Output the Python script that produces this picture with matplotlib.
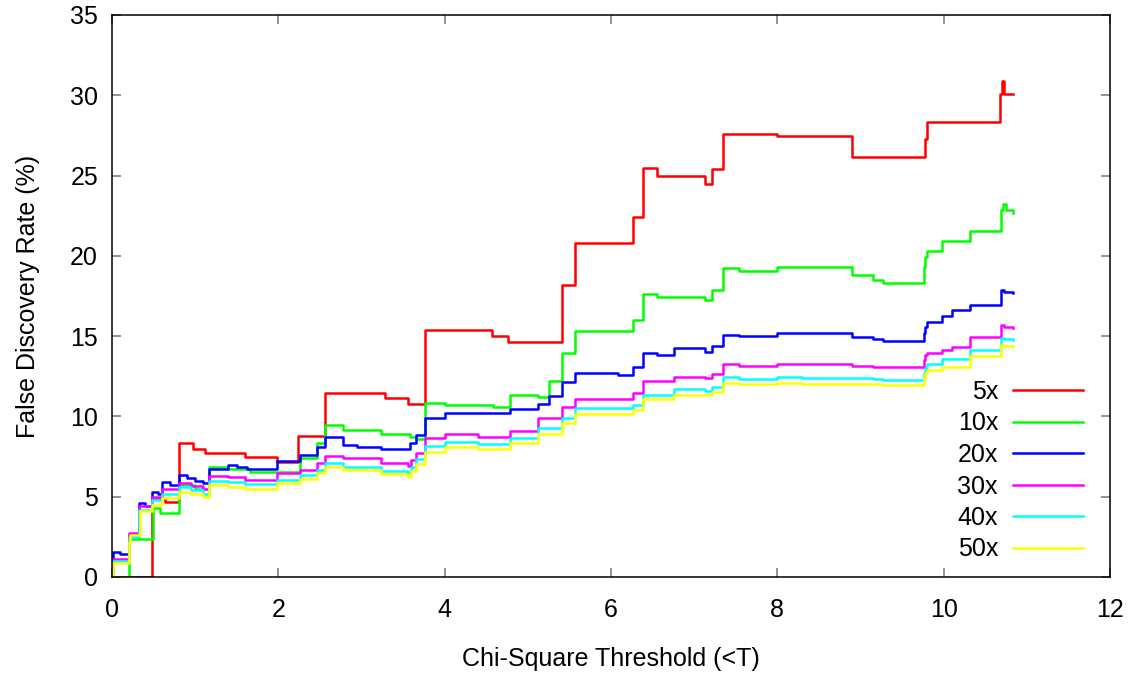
import matplotlib
matplotlib.use('Agg')
import matplotlib.pyplot as plt

plt.rcParams['font.family'] = ['Liberation Sans', 'DejaVu Sans']

# step data (x = threshold, y = FDR %)
red_x = [0, 0.48, 0.64, 0.80, 0.97, 1.12, 1.60, 1.98, 2.24, 2.56, 3.28, 3.56, 3.76, 4.57, 4.76,
         5.41, 5.57, 6.26, 6.38, 6.55, 7.13, 7.21, 7.35, 8.0, 8.9, 9.78, 9.80, 10.68, 10.70, 10.72, 10.83]
red_y = [0, 4.9, 4.65, 8.35, 8.0, 7.7, 7.45, 7.15, 8.8, 11.45, 11.15, 10.8, 15.4, 15.0, 14.65,
         18.2, 20.8, 22.4, 25.5, 25.0, 24.5, 25.4, 27.6, 27.45, 26.15, 27.3, 28.35, 30.1, 30.9, 30.1, 30.1]

green_x = [0, 0.20, 0.49, 0.58, 0.80, 1.00, 1.17, 1.39, 1.66, 2.26, 2.46, 2.56, 2.78, 3.24, 3.58, 3.65,
           3.76, 4.0, 4.58, 4.79, 5.12, 5.25, 5.41, 5.57, 6.26, 6.38, 6.55, 7.13, 7.21, 7.35, 7.54, 8.0,
           8.9, 9.15, 9.27, 9.76, 9.78, 9.80, 9.98, 10.32, 10.69, 10.71, 10.75, 10.83]
green_y = [0, 2.35, 4.3, 4.0, 5.7, 5.5, 6.85, 6.75, 6.55, 7.4, 8.35, 9.45, 9.15, 8.9, 8.7, 8.6,
           10.85, 10.7, 10.6, 11.35, 11.2, 12.2, 13.95, 15.3, 16.0, 17.6, 17.45, 17.25, 17.9, 19.25, 19.05, 19.3,
           18.8, 18.5, 18.3, 19.3, 19.9, 20.3, 20.9, 21.55, 22.85, 23.2, 22.85, 22.7]

blue_x = [0, 0.01, 0.10, 0.20, 0.33, 0.40, 0.48, 0.55, 0.60, 0.70, 0.80, 0.90, 1.00, 1.10, 1.17, 1.39,
          1.50, 1.62, 1.98, 2.26, 2.46, 2.56, 2.78, 2.95, 3.24, 3.58, 3.65, 3.76, 4.0, 4.79, 5.12, 5.25,
          5.41, 5.57, 6.08, 6.26, 6.38, 6.55, 6.76, 7.13, 7.21, 7.35, 7.54, 8.0, 8.9, 9.15, 9.27, 9.76,
          9.78, 9.80, 9.98, 10.10, 10.32, 10.69, 10.73, 10.83]
blue_y = [0, 1.58, 1.45, 2.6, 4.6, 4.45, 5.3, 5.15, 5.9, 5.7, 6.35, 6.15, 6.0, 5.85, 6.7, 7.0,
          6.85, 6.7, 7.2, 7.6, 8.1, 8.7, 8.2, 8.1, 7.95, 8.35, 8.85, 9.9, 10.2, 10.45, 10.8, 11.3,
          12.15, 12.7, 12.6, 13.1, 13.95, 13.8, 14.25, 14.0, 14.4, 15.1, 15.0, 15.2, 14.95, 14.8, 14.7, 15.2,
          15.6, 15.85, 16.25, 16.6, 16.93, 17.87, 17.75, 17.7]

magenta_x = [0, 0.01, 0.20, 0.33, 0.48, 0.60, 0.80, 0.95, 1.10, 1.17, 1.39, 1.60, 1.98, 2.26, 2.46, 2.56,
             2.78, 3.24, 3.56, 3.60, 3.65, 3.76, 4.0, 4.40, 4.79, 5.12, 5.41, 5.57, 6.26, 6.38, 6.76, 7.13,
             7.21, 7.35, 7.54, 8.0, 8.9, 9.15, 9.27, 9.76, 9.78, 9.80, 9.98, 10.10, 10.32, 10.69, 10.73, 10.83]
magenta_y = [0, 1.15, 2.75, 4.4, 5.0, 5.5, 5.87, 5.65, 5.45, 6.3, 6.25, 6.05, 6.45, 6.65, 7.1, 7.55,
             7.4, 7.1, 6.9, 7.3, 7.7, 8.65, 8.9, 8.75, 9.1, 9.9, 10.6, 11.1, 11.45, 12.2, 12.45, 12.4,
             12.65, 13.25, 13.15, 13.25, 13.15, 13.1, 13.05, 13.5, 13.8, 13.97, 14.13, 14.34, 14.96, 15.7, 15.55, 15.5]

cyan_x = [0, 0.01, 0.20, 0.33, 0.48, 0.60, 0.80, 0.95, 1.10, 1.17, 1.39, 1.60, 1.98, 2.26, 2.46, 2.56,
          2.78, 3.24, 3.56, 3.60, 3.65, 3.76, 4.0, 4.40, 4.79, 5.12, 5.41, 5.57, 6.26, 6.38, 6.76, 7.13,
          7.21, 7.35, 7.54, 8.0, 8.3, 9.15, 9.27, 9.76, 9.78, 9.80, 9.98, 10.32, 10.69, 10.73, 10.83]
cyan_y = [0, 1.0, 2.5, 4.15, 4.8, 5.2, 5.6, 5.4, 5.2, 5.95, 5.93, 5.8, 6.05, 6.35, 6.65, 7.1,
          6.85, 6.6, 6.45, 6.85, 7.33, 8.15, 8.4, 8.3, 8.65, 9.3, 9.9, 10.5, 10.7, 11.33, 11.7, 11.6,
          11.85, 12.45, 12.3, 12.47, 12.37, 12.3, 12.27, 12.7, 13.0, 13.26, 13.56, 14.13, 14.87, 14.8, 14.76]

yellow_x = [0, 0.01, 0.20, 0.22, 0.34, 0.48, 0.60, 0.80, 0.95, 1.10, 1.17, 1.39, 1.60, 1.98, 2.26, 2.46,
            2.56, 2.78, 3.24, 3.56, 3.60, 3.65, 3.76, 4.0, 4.40, 4.79, 5.12, 5.41, 5.57, 6.26, 6.38, 6.76,
            7.21, 7.35, 7.54, 8.0, 8.3, 9.15, 9.27, 9.76, 9.78, 9.80, 9.98, 10.32, 10.69, 10.73, 10.83]
yellow_y = [0, 0.9, 2.2, 2.6, 4.1, 4.5, 4.9, 5.3, 5.15, 5.0, 5.7, 5.6, 5.45, 5.87, 6.1, 6.47,
            6.85, 6.65, 6.4, 6.25, 6.6, 7.05, 7.8, 8.1, 8.0, 8.35, 8.9, 9.6, 10.15, 10.4, 11.1, 11.33,
            11.55, 12.1, 12.0, 12.1, 12.05, 12.0, 11.95, 12.4, 12.7, 12.9, 13.1, 13.76, 14.45, 14.4, 14.35]

labels = ['5x', '10x', '20x', '30x', '40x', '50x']
colors = ['#ff0000', '#00ff00', '#0000ff', '#ff00ff', '#00ffff', '#ffff00']
series = [(red_x, red_y), (green_x, green_y), (blue_x, blue_y),
          (magenta_x, magenta_y), (cyan_x, cyan_y), (yellow_x, yellow_y)]

fig = plt.figure(figsize=(11.28, 6.73), dpi=100)
ax = fig.add_axes([112 / 1128, 1 - 577 / 673, (1110 - 112) / 1128, (577 - 15) / 673])

for (xs, ys), c, lab in zip(series, colors, labels):
    ax.step(xs, ys, where='post', color=c, lw=1.8, label=lab)

ax.set_xlim(0, 12)
ax.set_ylim(0, 35)
ax.set_xticks(range(0, 13, 2))
ax.set_yticks(range(0, 36, 5))
ax.tick_params(direction='in', length=6.5, width=1.2, color='#808080',
               top=True, right=True, labelsize=18)
ax.tick_params(axis='x', pad=15)
ax.tick_params(axis='y', pad=10)
for sp in ax.spines.values():
    sp.set_linewidth(1.1)

ax.set_xlabel('Chi-Square Threshold (<T)', fontsize=18, labelpad=18)
ax.set_ylabel('False Discovery Rate (%)', fontsize=18, labelpad=22)

ax.legend(loc='upper right', bbox_to_anchor=(1083 / 1128, 1 - 380 / 673),
          bbox_transform=fig.transFigure, frameon=False, markerfirst=False,
          fontsize=18, handlelength=2.8, handletextpad=0.6, labelspacing=0.3,
          borderpad=0, borderaxespad=0)

fig.savefig('out.png', dpi=100)
